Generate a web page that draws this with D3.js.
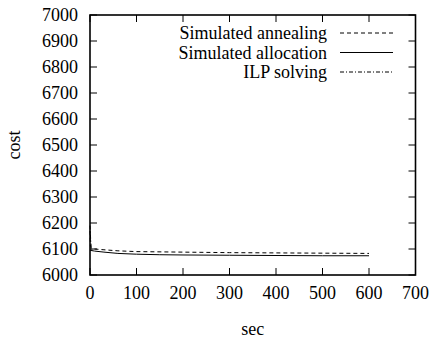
<!DOCTYPE html>
<html><head><meta charset="utf-8">
<script src="https://cdn.jsdelivr.net/npm/d3@7"></script>
<style>body{margin:0;background:#fff;}</style>
</head><body><svg id="c" width="432" height="338" font-family="'Liberation Serif','DejaVu Serif',serif"></svg>
<script>
const xTicks=[0,100,200,300,400,500,600,700];
const yTicks=[6000,6100,6200,6300,6400,6500,6600,6700,6800,6900,7000];
const seriesNames=["Simulated annealing","Simulated allocation","ILP solving"];
const annealSec=[0,1,3,10,30,60,100,200,300,400,500,600];
const annealCost=[6170,6110,6102,6100,6097,6093,6090,6088,6086,6085,6084,6083];
const allocSec=[0,10,30,60,100,150,200,300,400,500,600];
const allocCost=[6095,6092,6088,6083,6080,6078,6077,6076,6075,6074,6074];
const ilpSec=[0,1,2,3,5];
const ilpCost=[6190,6150,6120,6100,6095];
const dashes=["4,3",null,"4,2,1,2"];

const svg=d3.select("#c");
const L=90,R=415.5,T=15,B=275;
const x=d3.scaleLinear().domain([0,700]).range([L,R]);
const y=d3.scaleLinear().domain([6000,7000]).range([B,T]);
const fs=18,tl=7;
const FF="'Liberation Serif','DejaVu Serif',serif";

const g=svg.append("g").attr("font-family",FF);
xTicks.forEach(t=>{
  g.append("line").attr("x1",x(t)).attr("x2",x(t)).attr("y1",B).attr("y2",B-tl).attr("stroke","#000");
  g.append("line").attr("x1",x(t)).attr("x2",x(t)).attr("y1",T).attr("y2",T+tl).attr("stroke","#000");
  g.append("text").attr("x",x(t)).attr("y",B+24).attr("text-anchor","middle").attr("font-size",fs).attr("font-family",FF).text(t);
});
yTicks.forEach(t=>{
  g.append("line").attr("x1",L).attr("x2",L+tl).attr("y1",y(t)).attr("y2",y(t)).attr("stroke","#000");
  g.append("line").attr("x1",R).attr("x2",R-tl).attr("y1",y(t)).attr("y2",y(t)).attr("stroke","#000");
  g.append("text").attr("x",L-12).attr("y",y(t)+6).attr("text-anchor","end").attr("font-size",fs).attr("font-family",FF).text(t);
});
g.append("rect").attr("x",L).attr("y",T).attr("width",R-L).attr("height",B-T).attr("fill","none").attr("stroke","#000").attr("stroke-width",1.6);

g.append("text").attr("x",(L+R)/2).attr("y",335).attr("text-anchor","middle").attr("font-size",fs).attr("font-family",FF).text("sec");
g.append("text").attr("transform",`translate(20,${(T+B)/2}) rotate(-90)`).attr("text-anchor","middle").attr("font-size",fs).attr("font-family",FF).text("cost");

const line=d3.line().x(d=>x(d[0])).y(d=>y(d[1]));
const data=[d3.zip(annealSec,annealCost),d3.zip(allocSec,allocCost),d3.zip(ilpSec,ilpCost)];
data.forEach((d,i)=>{
  g.append("path").attr("d",line(d)).attr("fill","none").attr("stroke","#000").attr("stroke-width",1).attr("stroke-dasharray",dashes[i]);
});
const ly=[33,52.5,72];
seriesNames.forEach((n,i)=>{
  g.append("text").attr("x",327).attr("y",ly[i]+6).attr("text-anchor","end").attr("font-size",fs).attr("font-family",FF).text(n);
  g.append("line").attr("x1",340).attr("x2",393).attr("y1",ly[i]).attr("y2",ly[i]).attr("stroke","#000").attr("stroke-width",1).attr("stroke-dasharray",dashes[i]);
});
</script></body></html>
